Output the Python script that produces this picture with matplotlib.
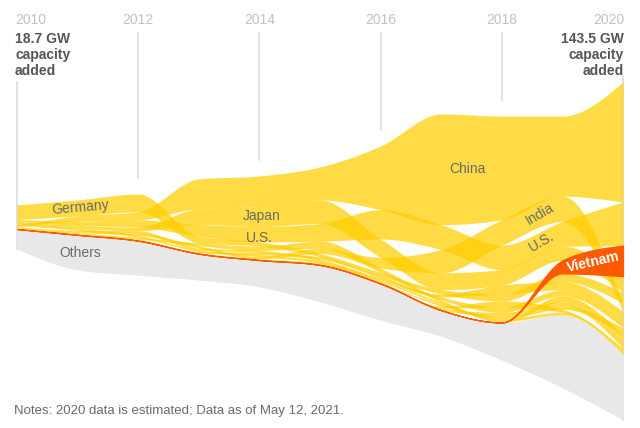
import numpy as np
import matplotlib.pyplot as plt

plt.rcParams['font.family'] = ['Liberation Sans', 'DejaVu Sans']

# solar capacity added per year, GW
years = list(range(2010, 2021))
china = [0.5, 2.2, 3.5, 12.5, 13.0, 14.0, 27.0, 47.0, 44.0, 34.0, 51.0]
us = [0.9, 1.8, 3.0, 5.0, 6.5, 7.5, 12.5, 10.6, 10.4, 10.5, 18.5]
japan = [0.9, 1.2, 1.6, 6.8, 8.5, 10.0, 7.8, 7.2, 6.5, 6.0, 7.0]
germany = [6.2, 6.8, 7.5, 2.8, 1.8, 1.4, 1.5, 1.8, 3.0, 3.5, 4.5]
india = [0.1, 0.3, 0.9, 1.0, 0.8, 2.2, 4.5, 9.8, 10.8, 10.8, 3.5]
australia = [0.4, 0.7, 1.0, 0.9, 0.9, 0.9, 0.8, 1.3, 3.8, 3.5, 3.5]
korea = [0.1, 0.1, 0.3, 0.4, 0.9, 1.0, 0.9, 1.2, 2.2, 2.5, 3.5]
uk = [0.1, 0.3, 0.6, 1.2, 1.8, 3.0, 1.9, 0.9, 0.3, 0.2, 0.2]
france = [0.7, 0.9, 0.9, 0.6, 0.9, 0.9, 0.6, 0.9, 0.9, 1.0, 0.8]
spain = [0.2, 0.3, 0.2, 0.1, 0.05, 0.05, 0.1, 0.1, 0.3, 2.5, 2.9]
mexico = [0.05, 0.05, 0.05, 0.05, 0.1, 0.1, 0.2, 0.8, 2.7, 1.2, 1.6]
brazil = [0.05, 0.05, 0.05, 0.05, 0.05, 0.05, 0.1, 0.9, 1.2, 1.5, 3.0]
netherlands = [0.05, 0.1, 0.2, 0.3, 0.4, 0.5, 0.5, 0.8, 1.5, 1.7, 2.7]
vietnam = [0.02, 0.02, 0.02, 0.02, 0.02, 0.02, 0.02, 0.02, 0.05, 5.5, 13.0]
others = [8.4, 14.9, 14.6, 11.2, 11.4, 15.7, 15.5, 11.1, 16.0, 31.0, 27.8]

countries = ['China', 'U.S.', 'Japan', 'Germany', 'India', 'Australia', 'Korea', 'UK',
             'France', 'Spain', 'Mexico', 'Brazil', 'Netherlands', 'Vietnam']
series = [china, us, japan, germany, india, australia, korea, uk,
          france, spain, mexico, brazil, netherlands, vietnam]

# layout: where the top of the stack sits each year (GW below the frame top)
stack_top = [87.0, 84.9, 82.4, 76.0, 74.7, 70.9, 62.0, 48.4, 49.3, 49.3, 34.8]

K = 2.355          # px per GW
PX_YEAR = 60.6     # px per year
W, H = 640, 428
YELLOW = (1.0, 206 / 255, 0.0)
ORANGE = '#FF5A00'
GREY_TXT = '#6A6A6A'


def monotone(xk, yk, xq):
    # monotone cubic (Fritsch-Carlson / d3 monotoneX)
    xk = np.asarray(xk, float)
    yk = np.asarray(yk, float)
    h = np.diff(xk)
    s = np.diff(yk) / h
    m = np.zeros_like(yk)
    for i in range(1, len(yk) - 1):
        p = (s[i - 1] * h[i] + s[i] * h[i - 1]) / (h[i - 1] + h[i])
        m[i] = (np.sign(s[i - 1]) + np.sign(s[i])) * min(abs(s[i - 1]), abs(s[i]), 0.5 * abs(p))
    m[0] = (3 * s[0] - m[1]) / 2
    m[-1] = (3 * s[-1] - m[-2]) / 2
    idx = np.clip(np.searchsorted(xk, xq) - 1, 0, len(xk) - 2)
    t = (xq - xk[idx]) / h[idx]
    h00 = 2 * t**3 - 3 * t**2 + 1
    h10 = t**3 - 2 * t**2 + t
    h01 = -2 * t**3 + 3 * t**2
    h11 = t**3 - t**2
    return (h00 * yk[idx] + h10 * h[idx] * m[idx] +
            h01 * yk[idx + 1] + h11 * h[idx] * m[idx + 1])


vals = np.array(series, float)
n, ny = vals.shape
tops = np.zeros_like(vals)
bots = np.zeros_like(vals)
oth_top = np.zeros(ny)
oth_bot = np.zeros(ny)
for j in range(ny):
    order = sorted(range(n), key=lambda i: -vals[i, j])
    y = stack_top[j]
    for i in order:
        tops[i, j] = y
        y += vals[i, j]
        bots[i, j] = y
    oth_top[j] = y
    oth_bot[j] = y + others[j]

totals = vals.sum(axis=0) + np.array(others)

fig = plt.figure(figsize=(W / 100, H / 100), dpi=100)
ax = fig.add_axes([0, 0, 1, 1])
x_left = years[0] - 17 / PX_YEAR
ax.set_xlim(x_left, x_left + W / PX_YEAR)
ax.set_ylim(H / K, 0)
ax.axis('off')

xs = np.linspace(years[0], years[-1], 800)
curves = {}
for i, c in enumerate(countries):
    curves[c] = (monotone(years, tops[i], xs), monotone(years, bots[i], xs))

# grid lines
for j, yr in enumerate(years):
    if yr in (2012, 2014, 2016, 2018):
        ax.plot([yr, yr], [33 / K, stack_top[j] - 6.8], color='#DDDDDD', lw=1.2, zorder=0)
ax.plot([years[0]] * 2, [82 / K, oth_bot[0]], color='#DDDDDD', lw=1.2, zorder=0)
ax.plot([years[-1]] * 2, [76 / K, oth_bot[-1]], color='#DDDDDD', lw=1.2, zorder=0)

# others
ax.fill_between(xs, monotone(years, oth_top, xs), monotone(years, oth_bot, xs),
                color='#E8E8E8', lw=0, zorder=1)

for c in countries:
    t, b = curves[c]
    if c == 'Vietnam':
        ax.fill_between(xs, t, b, color=ORANGE, lw=0.9, edgecolor=ORANGE, zorder=3)
    else:
        ax.fill_between(xs, t, b, color=YELLOW, alpha=0.73, lw=0, zorder=2)


def mid(c, x):
    t, b = curves[c]
    return np.interp(x, xs, (t + b) / 2)


lab = dict(color=GREY_TXT, fontsize=10, ha='center', va='center', zorder=5)
ax.text(2017.43, mid('China', 2017.43), 'China', **lab)
ax.text(2011.04, mid('Germany', 2011.04), 'Germany', rotation=5, **lab)
ax.text(2014.03, mid('Japan', 2014.03), 'Japan', **lab)
ax.text(2014.0, mid('U.S.', 2014.0) + 1.5, 'U.S.', **lab)
ax.text(2018.62, mid('India', 2018.62), 'India', rotation=30, **lab)
ax.text(2018.66, mid('U.S.', 2018.66), 'U.S.', rotation=30, **lab)
ax.text(2011.04, (monotone(years, oth_top, [2011.04])[0] + monotone(years, oth_bot, [2011.04])[0]) / 2,
        'Others', **lab)
ax.text(2019.5, mid('Vietnam', 2019.5), 'Vietnam', color='white', fontsize=10, fontweight='bold',
        rotation=13, ha='center', va='center', zorder=6)

# year labels
for yr in years[::2]:
    ha = 'left' if yr == years[0] else ('right' if yr == years[-1] else 'center')
    xx = yr - 2 / PX_YEAR if yr == years[0] else (yr + 1 / PX_YEAR if yr == years[-1] else yr)
    ax.text(xx, 20 / K, str(yr), color='#C2C2C2', fontsize=10, ha=ha, va='center')

note = dict(color='#555555', fontsize=10, fontweight='bold', va='top', linespacing=1.17)
ax.text(years[0] - 2 / PX_YEAR, 32 / K, f'{totals[0]:.1f} GW\ncapacity\nadded', ha='left', **note)
ax.text(years[-1] + 1 / PX_YEAR, 32 / K, f'{totals[-1]:.1f} GW\ncapacity\nadded', ha='right',
        multialignment='right', **note)

fig.text(14 / W, 1 - 411 / H, 'Notes: 2020 data is estimated; Data as of May 12, 2021.',
         color=GREY_TXT, fontsize=9.5, ha='left', va='center')

fig.savefig('out.png', dpi=100)
